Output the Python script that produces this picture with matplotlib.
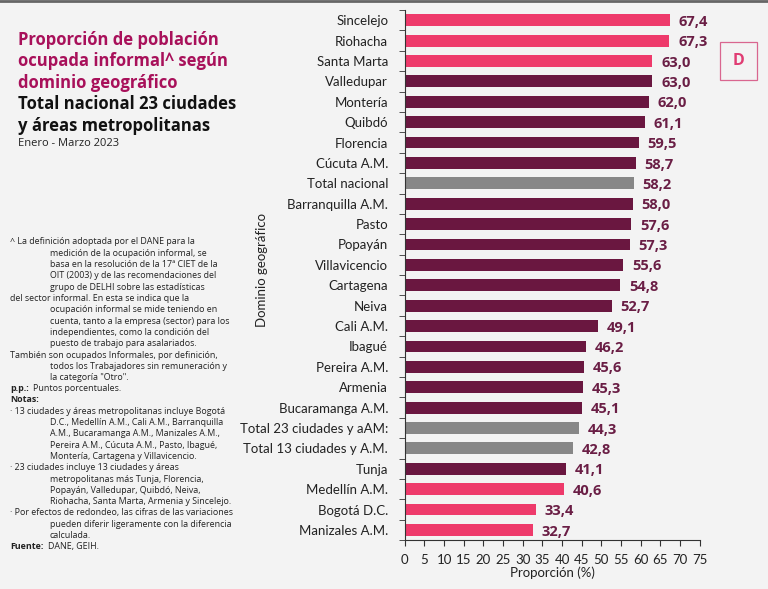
import matplotlib.pyplot as plt
from matplotlib.patches import Rectangle
from matplotlib.lines import Line2D
import numpy as np

categorias = ['Sincelejo', 'Riohacha', 'Santa Marta', 'Valledupar', 'Montería', 'Quibdó',
              'Florencia', 'Cúcuta A.M.', 'Total nacional', 'Barranquilla A.M.', 'Pasto',
              'Popayán', 'Villavicencio', 'Cartagena', 'Neiva', 'Cali A.M.', 'Ibagué',
              'Pereira A.M.', 'Armenia', 'Bucaramanga A.M.', 'Total 23 ciudades y aAM:',
              'Total 13 ciudades y A.M.', 'Tunja', 'Medellín A.M.', 'Bogotá D.C.',
              'Manizales A.M.']
valores = [67.4, 67.3, 63.0, 63.0, 62.0, 61.1, 59.5, 58.7, 58.2, 58.0, 57.6, 57.3, 55.6,
           54.8, 52.7, 49.1, 46.2, 45.6, 45.3, 45.1, 44.3, 42.8, 41.1, 40.6, 33.4, 32.7]
# tipo: 'a' = extremos, 't' = total, 'd' = resto
tipos = ['a', 'a', 'a', 'd', 'd', 'd', 'd', 'd', 't', 'd', 'd', 'd', 'd', 'd', 'd', 'd',
         'd', 'd', 'd', 'd', 't', 't', 'd', 'a', 'a', 'a']
x_ticks = list(range(0, 80, 5))

colores = {'a': '#EE3A6B', 'd': '#6A1740', 't': '#878787'}
fondo = '#F3F3F3'
vino = '#6A1E45'
magenta = '#A8105A'

fig = plt.figure(figsize=(7.68, 5.89), dpi=100, facecolor=fondo)
ax = fig.add_axes([0.527, 0.083, 0.384, 0.900], facecolor=fondo)

y = np.arange(len(categorias))
ax.barh(y, valores, height=0.58, color=[colores[t] for t in tipos])
for yi, v in zip(y, valores):
    ax.text(v + 2.2, yi + 0.08, f'{v:.1f}'.replace('.', ','), va='center', ha='left',
            fontsize=10.5, fontweight='bold', color=vino, family='Open Sans')

ax.set_ylim(len(categorias) - 0.5, -0.5)
ax.set_xlim(0, 75)
ax.set_yticks(y)
ax.set_yticklabels(categorias, fontsize=9.5, family='Lato', color='#222222')
ax.set_yticks(np.arange(len(categorias) + 1) - 0.5, minor=True)
ax.tick_params(axis='y', which='major', length=0, pad=12)
ax.tick_params(axis='y', which='minor', length=4, color='#333333', direction='out')
ax.set_xticks(x_ticks)
ax.set_xticklabels([str(t) for t in x_ticks], fontsize=9.5, family='Lato', color='#222222')
ax.tick_params(axis='x', length=4, color='#333333', pad=6)
for s in ['top', 'right']:
    ax.spines[s].set_visible(False)
for s in ['left', 'bottom']:
    ax.spines[s].set_color('#333333')
    ax.spines[s].set_linewidth(0.8)
ax.set_xlabel('Proporción (%)', fontsize=9.5, family='Lato', color='#222222', labelpad=0)
fig.text(262 / 768, 1 - 270 / 589, 'Dominio geográfico', rotation=90, ha='center',
         va='center', fontsize=9.5, family='Lato', color='#222222')

# título
tit = ['Proporción de población', 'ocupada informal^ según', 'dominio geográfico']
for i, t in enumerate(tit):
    fig.text(18 / 768, 1 - (40 + 21.5 * i) / 589, t, fontsize=12, fontweight='bold',
             color=magenta, family='Open Sans', va='center')
for i, t in enumerate(['Total nacional 23 ciudades', 'y áreas metropolitanas']):
    fig.text(18 / 768, 1 - (104 + 21.5 * i) / 589, t, fontsize=12, fontweight='bold',
             color='#111111', family='Open Sans', va='center')
fig.text(18 / 768, 1 - 143 / 589, 'Enero - Marzo 2023', fontsize=8, color='#222222',
         family='Open Sans', va='center')

# notas
notas = [
    (10, '^ La definición adoptada por el DANE para la'),
    (50, 'medición de la ocupación informal, se'),
    (50, 'basa en la resolución de la 17ª CIET de la'),
    (50, 'OIT (2003) y de las recomendaciones del'),
    (50, 'grupo de DELHI sobre las estadísticas'),
    (10, 'del sector informal. En esta se indica que la'),
    (50, 'ocupación informal se mide teniendo en'),
    (50, 'cuenta, tanto a la empresa (sector) para los'),
    (50, 'independientes, como la condición del'),
    (50, 'puesto de trabajo para asalariados.'),
    (10, 'También son ocupados Informales, por definición,'),
    (50, 'todos los Trabajadores sin remuneración y'),
    (50, 'la categoría "Otro".'),
]
notas2 = [
    (10, '· 13 ciudades y áreas metropolitanas incluye Bogotá'),
    (50, 'D.C., Medellín A.M., Cali A.M., Barranquilla'),
    (50, 'A.M., Bucaramanga A.M., Manizales A.M.,'),
    (50, 'Pereira A.M., Cúcuta A.M., Pasto, Ibagué,'),
    (50, 'Montería, Cartagena y Villavicencio.'),
    (10, '· 23 ciudades incluye 13 ciudades y áreas'),
    (50, 'metropolitanas más Tunja, Florencia,'),
    (50, 'Popayán, Valledupar, Quibdó, Neiva,'),
    (50, 'Riohacha, Santa Marta, Armenia y Sincelejo.'),
    (10, '· Por efectos de redondeo, las cifras de las variaciones'),
    (50, 'pueden diferir ligeramente con la diferencia'),
    (50, 'calculada.'),
]
nk = dict(fontsize=6.4, color='#222222', family='Open Sans', va='center')
yy = 242
for xo, t in notas:
    fig.text(xo / 768, 1 - yy / 589, t, **nk)
    yy += 11.3
fig.text(10 / 768, 1 - yy / 589, 'p.p.:', fontweight='bold', **nk)
fig.text(33 / 768, 1 - yy / 589, 'Puntos porcentuales.', **nk)
yy += 11
fig.text(10 / 768, 1 - yy / 589, 'Notas:', fontweight='bold', **nk)
yy += 11.3
for xo, t in notas2:
    fig.text(xo / 768, 1 - yy / 589, t, **nk)
    yy += 11.3
fig.text(10 / 768, 1 - yy / 589, 'Fuente:', fontweight='bold', **nk)
fig.text(48 / 768, 1 - yy / 589, 'DANE, GEIH.', **nk)

# logo
fig.patches.append(Rectangle((720 / 768, 1 - 80 / 589), 37 / 768, 38 / 589,
                             transform=fig.transFigure, fill=False,
                             edgecolor='#D9668F', linewidth=0.9))
fig.text(738.5 / 768, 1 - 61 / 589, 'D', ha='center', va='center', fontsize=11.5,
         fontweight='bold', color='#E03C73', family='Open Sans')

# línea superior
fig.lines.append(Line2D([0, 1], [0.998, 0.998], transform=fig.transFigure,
                        color='#666666', linewidth=2))

fig.savefig('out.png', dpi=100, facecolor=fondo)
